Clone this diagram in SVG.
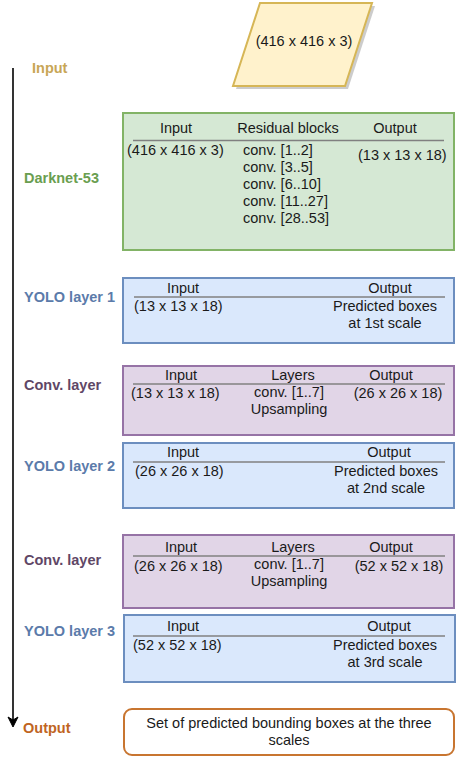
<svg xmlns="http://www.w3.org/2000/svg" width="458" height="758" viewBox="0 0 458 758">
<style>
text{font-family:"Liberation Sans",Arial,sans-serif;font-size:14.5px;fill:#1a1a1a}
.lbl{font-weight:bold}
.c{text-anchor:middle}
.sep{stroke:#808080;stroke-width:1.5}
.green{fill:#d5e8d4;stroke:#82b366;stroke-width:2}
.blue{fill:#dae8fc;stroke:#6c8ebf;stroke-width:2}
.purple{fill:#e1d5e7;stroke:#9673a6;stroke-width:2}
</style>
<g id="connectors">
<line x1="13" y1="68" x2="13" y2="724" stroke="#000" stroke-width="1.6"/>
<path d="M8,717 L13,727 L18,717 L13,720 Z" fill="#000" stroke="#000" stroke-width="1"/>
</g>
<g id="labels">
<text class="lbl" x="32" y="73" style="fill:#c8a656">Input</text>
<text class="lbl" x="24" y="183" style="fill:#6a9e50">Darknet-53</text>
<text class="lbl" x="24" y="302" style="fill:#5b7baa">YOLO layer 1</text>
<text class="lbl" x="24" y="390" style="fill:#5f4766">Conv. layer</text>
<text class="lbl" x="24" y="471" style="fill:#5b7baa">YOLO layer 2</text>
<text class="lbl" x="24" y="565" style="fill:#5f4766">Conv. layer</text>
<text class="lbl" x="24" y="636" style="fill:#5b7baa">YOLO layer 3</text>
<text class="lbl" x="23" y="733" style="fill:#c0651f">Output</text>
</g>
<g id="input-image">
<polygon points="263,6 375,6 348,89 236,89" fill="#999" opacity="0.5"/>
<polygon points="260,3 372,3 345,86 233,86" fill="#fff2cc" stroke="#d6b656" stroke-width="2"/>
<text class="c" x="304" y="46">(416 x 416 x 3)</text>
</g>
<g id="darknet">
<rect x="123" y="113" width="331" height="137" class="green"/>
<text class="c" x="176" y="133">Input</text>
<text class="c" x="288" y="133">Residual blocks</text>
<text class="c" x="395" y="133">Output</text>
<line x1="133" y1="140.5" x2="444" y2="140.5" class="sep"/>
<text x="127" y="155">(416 x 416 x 3)</text>
<text x="243" y="155">conv. [1..2]</text>
<text x="243" y="172">conv. [3..5]</text>
<text x="243" y="189">conv. [6..10]</text>
<text x="243" y="206">conv. [11..27]</text>
<text x="243" y="223">conv. [28..53]</text>
<text x="358" y="160">(13 x 13 x 18)</text>
</g>
<g id="yolo1">
<rect x="123" y="278" width="331" height="65" class="blue"/>
<text class="c" x="183" y="293">Input</text>
<text class="c" x="390" y="293">Output</text>
<line x1="134" y1="297" x2="445" y2="297" class="sep"/>
<text x="134" y="311">(13 x 13 x 18)</text>
<text class="c" x="385" y="311">Predicted boxes</text>
<text class="c" x="385" y="328">at 1st scale</text>
</g>
<g id="conv1">
<rect x="123" y="366" width="331" height="69" class="purple"/>
<text class="c" x="181" y="380">Input</text>
<text class="c" x="293" y="380">Layers</text>
<text class="c" x="391" y="380">Output</text>
<line x1="133" y1="384" x2="445" y2="384" class="sep"/>
<text x="131" y="398">(13 x 13 x 18)</text>
<text class="c" x="289" y="397">conv. [1..7]</text>
<text class="c" x="289" y="414">Upsampling</text>
<text class="c" x="398" y="398">(26 x 26 x 18)</text>
</g>
<g id="yolo2">
<rect x="123" y="443" width="331" height="65" class="blue"/>
<text class="c" x="183" y="457">Input</text>
<text class="c" x="389" y="457">Output</text>
<line x1="133" y1="462" x2="445" y2="462" class="sep"/>
<text x="135" y="476">(26 x 26 x 18)</text>
<text class="c" x="386" y="476">Predicted boxes</text>
<text class="c" x="386" y="493">at 2nd scale</text>
</g>
<g id="conv2">
<rect x="123" y="535" width="331" height="73" class="purple"/>
<text class="c" x="181" y="552">Input</text>
<text class="c" x="293" y="552">Layers</text>
<text class="c" x="391" y="552">Output</text>
<line x1="133" y1="556" x2="445" y2="556" class="sep"/>
<text x="134" y="571">(26 x 26 x 18)</text>
<text class="c" x="289" y="569">conv. [1..7]</text>
<text class="c" x="289" y="586">Upsampling</text>
<text class="c" x="399" y="571">(52 x 52 x 18)</text>
</g>
<g id="yolo3">
<rect x="124" y="615" width="331" height="67" class="blue"/>
<text class="c" x="183" y="631">Input</text>
<text class="c" x="389" y="631">Output</text>
<line x1="133" y1="636" x2="445" y2="636" class="sep"/>
<text x="133" y="650">(52 x 52 x 18)</text>
<text class="c" x="385" y="650">Predicted boxes</text>
<text class="c" x="385" y="667">at 3rd scale</text>
</g>
<g id="output">
<rect x="124" y="709" width="330" height="46" rx="8" fill="#fff" stroke="#c87530" stroke-width="2"/>
<text class="c" x="289" y="728">Set of predicted bounding boxes at the three</text>
<text class="c" x="289" y="745">scales</text>
</g>
</svg>
